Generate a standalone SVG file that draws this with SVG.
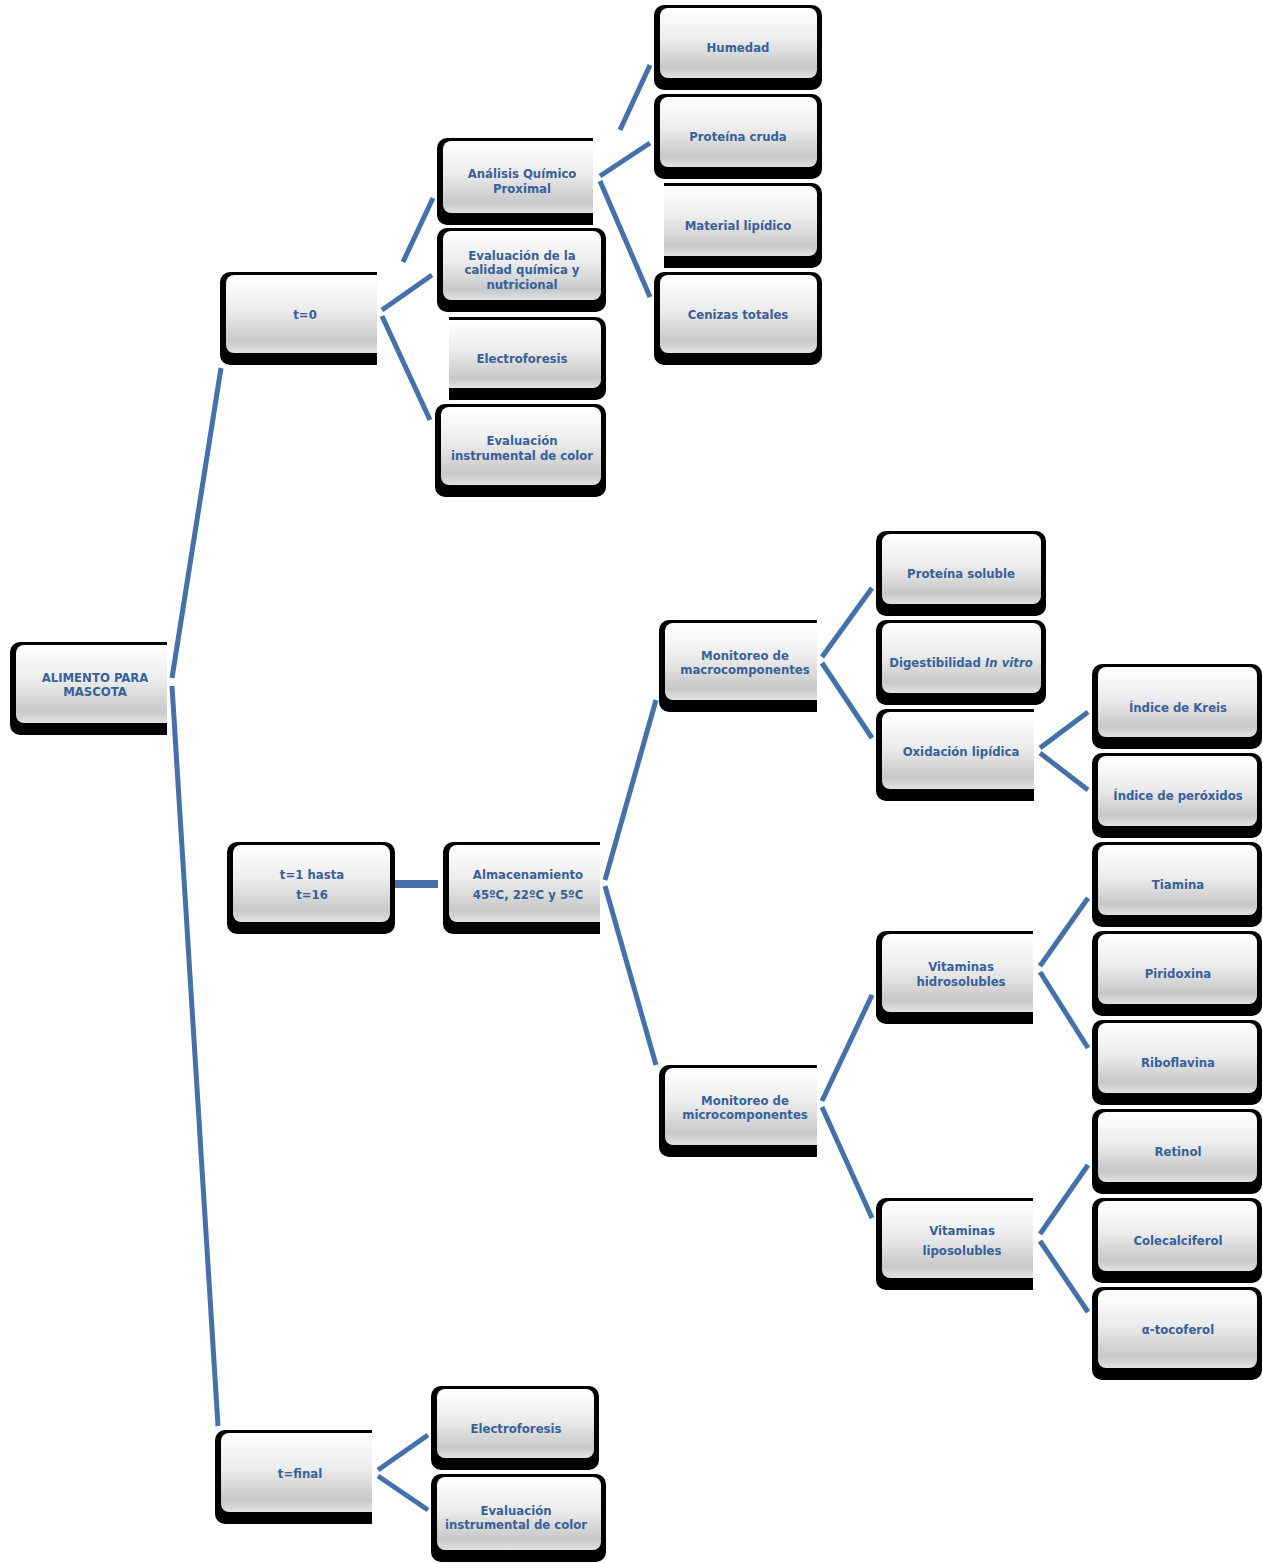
<svg xmlns="http://www.w3.org/2000/svg" width="1263" height="1563" viewBox="0 0 1263 1563">
<defs>
<linearGradient id="g" x1="0" y1="0" x2="0" y2="1">
<stop offset="0" stop-color="#ffffff"/>
<stop offset="0.45" stop-color="#ececec"/>
<stop offset="0.85" stop-color="#c8c8c8"/>
<stop offset="1" stop-color="#e2e2e2"/>
</linearGradient>
</defs>
<style>
.sh{fill:#000}
.bx{fill:url(#g)}
.t{font-family:"DejaVu Sans Condensed","DejaVu Sans",sans-serif;font-stretch:condensed;font-weight:bold;font-size:13px;fill:#37619A;text-anchor:middle}
.c{stroke:#4471A9;stroke-width:5;fill:none;stroke-linecap:butt}
</style>
<rect width="1263" height="1563" fill="#fff"/>
<g id="connectors" class="c">
<line x1="172" y1="678" x2="221" y2="368"/>
<line x1="172" y1="686" x2="218" y2="1426"/>
<line x1="382" y1="310" x2="432" y2="275"/>
<line x1="382" y1="316" x2="430" y2="420"/>
<line x1="403" y1="262" x2="433" y2="198"/>
<line x1="600" y1="176" x2="650" y2="143"/>
<line x1="600" y1="181" x2="650" y2="297"/>
<line x1="620" y1="130" x2="650" y2="65"/>
<line x1="388" y1="884" x2="438" y2="884" stroke-width="8"/>
<line x1="605" y1="880" x2="656" y2="700"/>
<line x1="605" y1="886" x2="656" y2="1065"/>
<line x1="822" y1="657" x2="872" y2="588"/>
<line x1="822" y1="663" x2="872" y2="738"/>
<line x1="1040" y1="748" x2="1088" y2="712"/>
<line x1="1040" y1="753" x2="1088" y2="790"/>
<line x1="822" y1="1101" x2="872" y2="995"/>
<line x1="822" y1="1107" x2="872" y2="1218"/>
<line x1="1040" y1="966" x2="1088" y2="898"/>
<line x1="1040" y1="972" x2="1088" y2="1048"/>
<line x1="1040" y1="1234" x2="1088" y2="1165"/>
<line x1="1040" y1="1241" x2="1088" y2="1312"/>
<line x1="378" y1="1470" x2="428" y2="1435"/>
<line x1="378" y1="1476" x2="428" y2="1510"/>
</g>
<g id="root"><path class="sh" d="M20 642 H167 V735 H20 A10 10 0 0 1 10 725 V652 A10 10 0 0 1 20 642 Z"/><path class="bx" d="M24 645 H167 V723 H24 A8 8 0 0 1 16 715 V653 A8 8 0 0 1 24 645 Z"/><text class="t" x="95" y="682">ALIMENTO PARA</text><text class="t" x="95" y="696">MASCOTA</text></g>
<g id="t0"><path class="sh" d="M230 272 H377 V365 H230 A10 10 0 0 1 220 355 V282 A10 10 0 0 1 230 272 Z"/><path class="bx" d="M234 275 H377 V353 H234 A8 8 0 0 1 226 345 V283 A8 8 0 0 1 234 275 Z"/><text class="t" x="305" y="319">t=0</text></g>
<g id="t1"><rect class="sh" x="227" y="842" width="168" height="92" rx="10"/><rect class="bx" x="233" y="845" width="157" height="77" rx="8"/><text class="t" x="312" y="879">t=1 hasta</text><text class="t" x="312" y="899">t=16</text></g>
<g id="tfinal"><path class="sh" d="M225 1430 H372 V1524 H225 A10 10 0 0 1 215 1514 V1440 A10 10 0 0 1 225 1430 Z"/><path class="bx" d="M229 1433 H372 V1512 H229 A8 8 0 0 1 221 1504 V1441 A8 8 0 0 1 229 1433 Z"/><text class="t" x="300" y="1478">t=final</text></g>
<g id="aqp"><path class="sh" d="M447 138 H593 V225 H447 A10 10 0 0 1 437 215 V148 A10 10 0 0 1 447 138 Z"/><path class="bx" d="M451 141 H593 V213 H451 A8 8 0 0 1 443 205 V149 A8 8 0 0 1 451 141 Z"/><text class="t" x="522" y="178">Análisis Químico</text><text class="t" x="522" y="193">Proximal</text></g>
<g id="ecq"><rect class="sh" x="437" y="228" width="169" height="84" rx="10"/><rect class="bx" x="443" y="231" width="158" height="69" rx="8"/><text class="t" x="522" y="260">Evaluación de la</text><text class="t" x="522" y="274">calidad química y</text><text class="t" x="522" y="289">nutricional</text></g>
<g id="el0"><path class="sh" d="M449 317 H596 A10 10 0 0 1 606 327 V390 A10 10 0 0 1 596 400 H449 Z"/><path class="bx" d="M449 320 H593 A8 8 0 0 1 601 328 V380 A8 8 0 0 1 593 388 H449 Z"/><text class="t" x="522" y="363">Electroforesis</text></g>
<g id="eic0"><rect class="sh" x="435" y="404" width="171" height="93" rx="10"/><rect class="bx" x="441" y="407" width="160" height="78" rx="8"/><text class="t" x="522" y="445">Evaluación</text><text class="t" x="522" y="460">instrumental de color</text></g>
<g id="hum"><rect class="sh" x="654" y="5" width="168" height="85" rx="10"/><rect class="bx" x="660" y="8" width="157" height="70" rx="8"/><text class="t" x="738" y="52">Humedad</text></g>
<g id="pc"><rect class="sh" x="654" y="94" width="168" height="85" rx="10"/><rect class="bx" x="660" y="97" width="157" height="70" rx="8"/><text class="t" x="738" y="141">Proteína cruda</text></g>
<g id="ml"><path class="sh" d="M664 183 H812 A10 10 0 0 1 822 193 V258 A10 10 0 0 1 812 268 H664 Z"/><path class="bx" d="M664 186 H809 A8 8 0 0 1 817 194 V248 A8 8 0 0 1 809 256 H664 Z"/><text class="t" x="738" y="230">Material lipídico</text></g>
<g id="ct"><rect class="sh" x="654" y="272" width="168" height="93" rx="10"/><rect class="bx" x="660" y="275" width="157" height="78" rx="8"/><text class="t" x="738" y="319">Cenizas totales</text></g>
<g id="alm"><path class="sh" d="M453 842 H600 V934 H453 A10 10 0 0 1 443 924 V852 A10 10 0 0 1 453 842 Z"/><path class="bx" d="M457 845 H600 V922 H457 A8 8 0 0 1 449 914 V853 A8 8 0 0 1 457 845 Z"/><text class="t" x="528" y="879">Almacenamiento</text><text class="t" x="528" y="899">45ºC, 22ºC y 5ºC</text></g>
<g id="mac"><path class="sh" d="M669 620 H817 V712 H669 A10 10 0 0 1 659 702 V630 A10 10 0 0 1 669 620 Z"/><path class="bx" d="M673 623 H817 V700 H673 A8 8 0 0 1 665 692 V631 A8 8 0 0 1 673 623 Z"/><text class="t" x="745" y="660">Monitoreo de</text><text class="t" x="745" y="674">macrocomponentes</text></g>
<g id="mic"><path class="sh" d="M669 1065 H817 V1157 H669 A10 10 0 0 1 659 1147 V1075 A10 10 0 0 1 669 1065 Z"/><path class="bx" d="M673 1068 H817 V1145 H673 A8 8 0 0 1 665 1137 V1076 A8 8 0 0 1 673 1068 Z"/><text class="t" x="745" y="1105">Monitoreo de</text><text class="t" x="745" y="1119">microcomponentes</text></g>
<g id="ps"><rect class="sh" x="876" y="531" width="170" height="85" rx="10"/><rect class="bx" x="882" y="534" width="159" height="70" rx="8"/><text class="t" x="961" y="578">Proteína soluble</text></g>
<g id="dig"><rect class="sh" x="876" y="620" width="170" height="85" rx="10"/><rect class="bx" x="882" y="623" width="159" height="70" rx="8"/><text class="t" x="961" y="667">Digestibilidad <tspan font-style="italic">In vitro</tspan></text></g>
<g id="ox"><path class="sh" d="M886 709 H1034 V801 H886 A10 10 0 0 1 876 791 V719 A10 10 0 0 1 886 709 Z"/><path class="bx" d="M890 712 H1034 V789 H890 A8 8 0 0 1 882 781 V720 A8 8 0 0 1 890 712 Z"/><text class="t" x="961" y="756">Oxidación lipídica</text></g>
<g id="vh"><path class="sh" d="M886 931 H1033 V1024 H886 A10 10 0 0 1 876 1014 V941 A10 10 0 0 1 886 931 Z"/><path class="bx" d="M890 934 H1033 V1012 H890 A8 8 0 0 1 882 1004 V942 A8 8 0 0 1 890 934 Z"/><text class="t" x="961" y="971">Vitaminas</text><text class="t" x="961" y="986">hidrosolubles</text></g>
<g id="vl"><path class="sh" d="M886 1198 H1033 V1290 H886 A10 10 0 0 1 876 1280 V1208 A10 10 0 0 1 886 1198 Z"/><path class="bx" d="M890 1201 H1033 V1278 H890 A8 8 0 0 1 882 1270 V1209 A8 8 0 0 1 890 1201 Z"/><text class="t" x="962" y="1235">Vitaminas</text><text class="t" x="962" y="1255">liposolubles</text></g>
<g id="ik"><rect class="sh" x="1092" y="664" width="170" height="85" rx="10"/><rect class="bx" x="1098" y="667" width="159" height="70" rx="8"/><text class="t" x="1178" y="712">Índice de Kreis</text></g>
<g id="ip"><rect class="sh" x="1092" y="753" width="170" height="85" rx="10"/><rect class="bx" x="1098" y="756" width="159" height="70" rx="8"/><text class="t" x="1178" y="800">Índice de peróxidos</text></g>
<g id="ti"><rect class="sh" x="1092" y="842" width="170" height="85" rx="10"/><rect class="bx" x="1098" y="845" width="159" height="70" rx="8"/><text class="t" x="1178" y="889">Tiamina</text></g>
<g id="pi"><rect class="sh" x="1092" y="931" width="170" height="85" rx="10"/><rect class="bx" x="1098" y="934" width="159" height="70" rx="8"/><text class="t" x="1178" y="978">Piridoxina</text></g>
<g id="ri"><rect class="sh" x="1092" y="1020" width="170" height="85" rx="10"/><rect class="bx" x="1098" y="1023" width="159" height="70" rx="8"/><text class="t" x="1178" y="1067">Riboflavina</text></g>
<g id="re"><rect class="sh" x="1092" y="1109" width="170" height="85" rx="10"/><rect class="bx" x="1098" y="1112" width="159" height="70" rx="8"/><text class="t" x="1178" y="1156">Retinol</text></g>
<g id="co"><rect class="sh" x="1092" y="1198" width="170" height="85" rx="10"/><rect class="bx" x="1098" y="1201" width="159" height="70" rx="8"/><text class="t" x="1178" y="1245">Colecalciferol</text></g>
<g id="to"><rect class="sh" x="1092" y="1287" width="170" height="93" rx="10"/><rect class="bx" x="1098" y="1290" width="159" height="78" rx="8"/><text class="t" x="1178" y="1334">α-tocoferol</text></g>
<g id="el1"><rect class="sh" x="431" y="1386" width="168" height="84" rx="10"/><rect class="bx" x="437" y="1389" width="157" height="69" rx="8"/><text class="t" x="516" y="1433">Electroforesis</text></g>
<g id="eic1"><rect class="sh" x="431" y="1474" width="175" height="88" rx="10"/><rect class="bx" x="437" y="1477" width="164" height="73" rx="8"/><text class="t" x="516" y="1515">Evaluación</text><text class="t" x="516" y="1529">instrumental de color</text></g>
</svg>
